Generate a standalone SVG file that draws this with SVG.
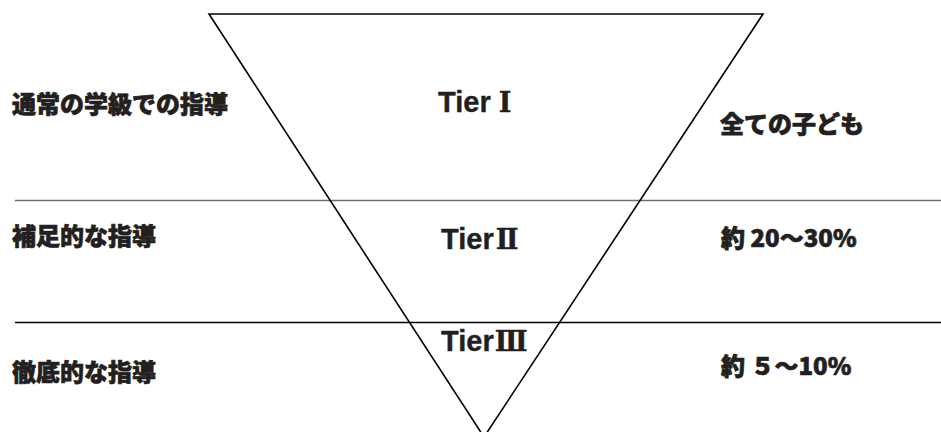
<svg xmlns="http://www.w3.org/2000/svg" width="941" height="432" viewBox="0 0 941 432">
<style>
.t{font-family:"Liberation Sans","Noto Sans CJK JP",sans-serif;font-weight:bold;fill:#231f20}
.jp{font-family:"Noto Sans CJK JP",sans-serif;font-weight:900;font-size:24px;stroke:#231f20;stroke-width:0.7}
.tier{font-size:29px;stroke:#231f20;stroke-width:0.4}
.rn{font-family:"DejaVu Serif","Liberation Serif",serif;font-weight:bold;font-size:27px}
</style>
<rect width="941" height="432" fill="#fff"/>
<g id="connectors">
<line x1="15" y1="200.5" x2="941" y2="200.5" stroke="#6d6d6d" stroke-width="1.3"/>
<line x1="15" y1="322.5" x2="941" y2="322.5" stroke="#000" stroke-width="1.3"/>
</g>
<g id="triangle">
<polygon points="209,14 763,14 484,437" fill="none" stroke="#000" stroke-width="1.6"/>
</g>
<g id="tier1"><text class="t tier" x="438" y="112">Tier <tspan class="rn">Ⅰ</tspan></text></g>
<g id="tier2"><text class="t tier" x="441" y="249">Tier<tspan class="rn" dx="2">Ⅱ</tspan></text></g>
<g id="tier3"><text class="t tier" x="441" y="351">Tier<tspan class="rn" dx="1">Ⅲ</tspan></text></g>
<g id="left1"><text class="t jp" x="12" y="113">通常の学級での指導</text></g>
<g id="left2"><text class="t jp" x="12" y="245">補足的な指導</text></g>
<g id="left3"><text class="t jp" x="12" y="381">徹底的な指導</text></g>
<g id="right1"><text class="t jp" x="720" y="133">全ての子ども</text></g>
<g id="right2"><text class="t jp" x="721" y="247">約 20〜30%</text></g>
<g id="right3"><text class="t jp" x="721" y="375">約 ５〜10%</text></g>
</svg>
